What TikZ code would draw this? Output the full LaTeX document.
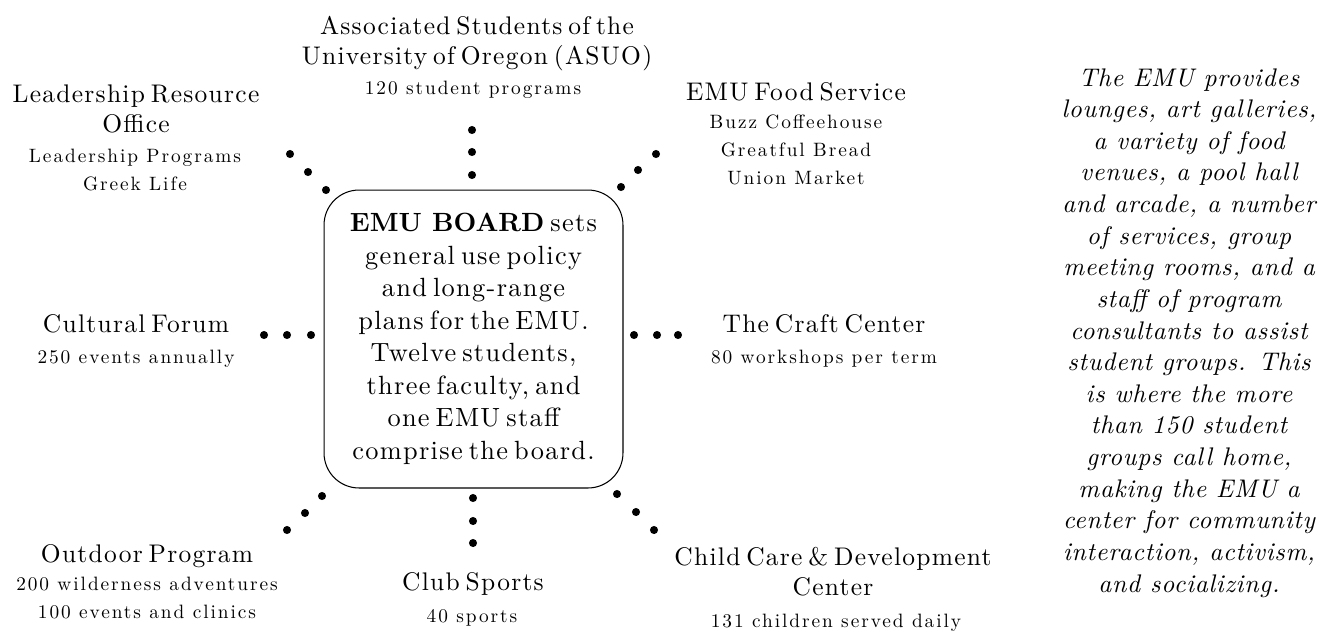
\documentclass[tikz,border=0pt]{standalone}
\usepackage{fontspec}
\usepackage{tikz}
\usetikzlibrary{positioning}
\setmainfont{lmroman10-regular.otf}[BoldFont=lmroman10-bold.otf,ItalicFont=lmroman10-italic.otf,BoldItalicFont=lmroman10-bolditalic.otf]
\newfontfamily\titlefamily{lmroman10-regular.otf}[LetterSpace=5,WordSpace=0.6]
\newfontfamily\headfamily{lmroman10-bold.otf}
\newfontfamily\detailfamily{lmroman10-regular.otf}[LetterSpace=10]
\newfontfamily\notefamily{lmroman10-italic.otf}[LetterSpace=3]

\begin{document}
\begin{tikzpicture}[x=0.02cm,y=-0.02cm,
    title/.style={align=center,inner sep=0pt,anchor=north,font=\titlefamily\fontsize{14.5}{17.3}\selectfont},
    detail/.style={align=center,inner sep=0pt,anchor=north,font=\detailfamily\fontsize{11}{15.9}\selectfont},
    board/.style={draw,line width=0.6pt,rounded corners=0.7cm,minimum width=5.98cm,minimum height=5.96cm,
      align=center,inner sep=0pt,font=\titlefamily\fontsize{15}{18.5}\selectfont}]
      \useasboundingbox (0,0) rectangle (1334,630);
      % centre box
      \node[board] (board) at (473.5,339) {{\headfamily EMU BOARD} sets\\general use policy\\and long-range\\plans for the EMU.\\Twelve students,\\three faculty, and\\one EMU staff\\comprise the board.};
      % units round the board
      \node[title] (asuo) at (477,15.5) {Associated Students of the\\University of Oregon (ASUO)};
      \node[detail] (asuo-sub) at (473,81) {120 student programs};
      \node[title] (lro) at (136,84.5) {Leadership Resource\\Office};
      \node[detail] (lro-sub) at (135,149) {Leadership Programs\\Greek Life};
      \node[title] (food) at (796,82.5) {EMU Food Service};
      \node[detail] (food-sub) at (796,115) {Buzz Coffeehouse\\Greatful Bread\\Union Market};
      \node[title] (forum) at (136,314.5) {Cultural Forum};
      \node[detail] (forum-sub) at (136,350) {250 events annually};
      \node[title] (craft) at (824,314.5) {The Craft Center};
      \node[detail] (craft-sub) at (824,350) {80 workshops per term};
      \node[title] (outdoor) at (147,544.5) {Outdoor Program};
      \node[detail] (outdoor-sub) at (147,577) {200 wilderness adventures\\100 events and clinics};
      \node[title] (club) at (473,572.5) {Club Sports};
      \node[detail] (club-sub) at (472,609) {40 sports};
      \node[title] (childcare) at (833,546.5) {Child Care \& Development\\Center};
      \node[detail] (childcare-sub) at (836,614) {131 children served daily};
      % side note
      \node[align=center,inner sep=0pt,anchor=north,font=\notefamily\fontsize{14.5}{18}\selectfont] (note) at (1189,68)
        {The EMU provides\\lounges, art galleries,\\a variety of food\\venues, a pool hall\\and arcade, a number\\of services, group\\meeting rooms, and a\\staff of program\\consultants to assist\\student groups. This\\is where the more\\than 150 student\\groups call home,\\making the EMU a\\center for community\\interaction, activism,\\and socializing.};
      % dotted links
      \foreach \p in {(472,130),(472,152),(472,175),(290,154),(308,172),(326,190),
                      (656,154),(638,170),(621,187),(264,335),(287,335),(311,335),
                      (634,335),(657,335),(678,335),(473,498),(473,521),(473,543),
                      (322,496),(305,513),(287,530),(617,494),(636,512),(654,530)} {
        \fill \p circle (2.3pt);
      }
    \end{tikzpicture}
\end{document}
